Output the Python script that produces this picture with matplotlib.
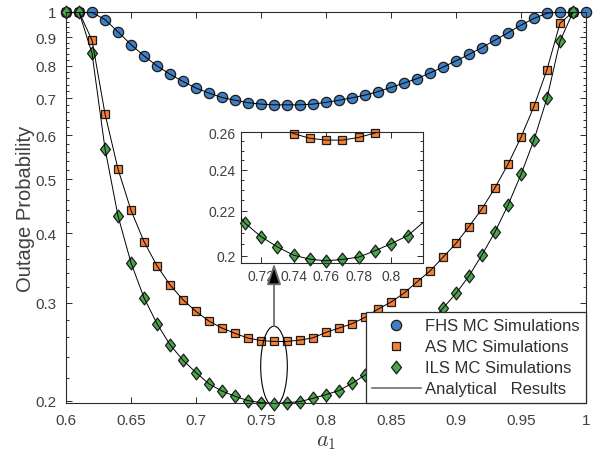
import numpy as np
import matplotlib
matplotlib.use('Agg')
import matplotlib.pyplot as plt
import matplotlib.lines as mlines
import matplotlib.transforms as mtransforms
from matplotlib.patches import Ellipse, FancyArrowPatch
from matplotlib.path import Path
from matplotlib.ticker import FixedLocator, FixedFormatter, NullFormatter

# power allocation coefficient a1
a1_fhs = [0.60, 0.61, 0.62, 0.63, 0.64, 0.65, 0.66, 0.67, 0.68, 0.69,
          0.70, 0.71, 0.72, 0.73, 0.74, 0.75, 0.76, 0.77, 0.78, 0.79,
          0.80, 0.81, 0.82, 0.83, 0.84, 0.85, 0.86, 0.87, 0.88, 0.89,
          0.90, 0.91, 0.92, 0.93, 0.94, 0.95, 0.96, 0.97, 0.98, 0.99, 1.00]
p_fhs = [1.0, 1.0, 0.998, 0.969, 0.921, 0.874, 0.834, 0.800, 0.773, 0.750,
         0.730, 0.715, 0.702, 0.694, 0.687, 0.683, 0.681, 0.681, 0.681, 0.683,
         0.688, 0.694, 0.701, 0.709, 0.719, 0.732, 0.745, 0.759, 0.777, 0.796,
         0.817, 0.839, 0.863, 0.890, 0.918, 0.947, 0.974, 0.995, 1.0, 1.0, 1.0]

a1_sic = [0.60, 0.61, 0.62, 0.63, 0.64, 0.65, 0.66, 0.67, 0.68, 0.69,
          0.70, 0.71, 0.72, 0.73, 0.74, 0.75, 0.76, 0.77, 0.78, 0.79,
          0.80, 0.81, 0.82, 0.83, 0.84, 0.85, 0.86, 0.87, 0.88, 0.89,
          0.90, 0.91, 0.92, 0.93, 0.94, 0.95, 0.96, 0.97, 0.98, 0.99]
p_as = [1.0, 1.0, 0.890, 0.656, 0.522, 0.440, 0.3866, 0.3497, 0.3232, 0.3039,
        0.2895, 0.2782, 0.2703, 0.2644, 0.2593, 0.2567, 0.2557, 0.2557, 0.2572, 0.2596,
        0.2655, 0.2703, 0.2752, 0.2825, 0.2924, 0.3010, 0.3123, 0.3272, 0.3423, 0.3623,
        0.3838, 0.4114, 0.4430, 0.4831, 0.5325, 0.5954, 0.677, 0.788, 0.9545, 1.0]
p_ils = [1.0, 1.0, 0.843, 0.568, 0.430, 0.354, 0.3064, 0.2752, 0.2523, 0.2366,
         0.2248, 0.2145, 0.2083, 0.2038, 0.2002, 0.1985, 0.1978, 0.1984, 0.1994, 0.2021,
         0.2052, 0.2087, 0.2150, 0.2225, 0.231, 0.240, 0.251, 0.263, 0.277, 0.2935,
         0.3119, 0.3354, 0.366, 0.4024, 0.4496, 0.5104, 0.589, 0.700, 0.886, 1.0]

labels = ['FHS MC Simulations', 'AS MC Simulations', 'ILS MC Simulations',
          'Analytical   Results']

yticks = [0.2, 0.3, 0.4, 0.5, 0.6, 0.7, 0.8, 0.9, 1.0]
yticklabels = ['0.2', '0.3', '0.4', '0.5', '0.6', '0.7', '0.8', '0.9', '1']
xticks = [0.6, 0.65, 0.7, 0.75, 0.8, 0.85, 0.9, 0.95, 1.0]
xticklabels = ['0.6', '0.65', '0.7', '0.75', '0.8', '0.85', '0.9', '0.95', '1']
in_xticks = [0.72, 0.74, 0.76, 0.78, 0.80]
in_xticklabels = ['0.72', '0.74', '0.76', '0.78', '0.8']
in_yticks = [0.2, 0.22, 0.24, 0.26]
in_yticklabels = ['0.2', '0.22', '0.24', '0.26']

plt.rcParams['font.family'] = ['Liberation Sans', 'DejaVu Sans']
plt.rcParams['mathtext.fontset'] = 'cm'

c_blue = '#3f7fc2'
c_orange = '#f2813a'
c_green = '#4aa64c'
c_edge = '#1c1c1c'
c_text = '#404040'
c_spine = '#2b2b2b'

diamond = Path([(0, 1), (0.78, 0), (0, -1), (-0.78, 0), (0, 1)],
               [Path.MOVETO, Path.LINETO, Path.LINETO, Path.LINETO, Path.CLOSEPOLY])

styles = [
    dict(marker='o', ms=7.4, mfc=c_blue),
    dict(marker='s', ms=6.0, mfc=c_orange),
    dict(marker=diamond, ms=9.2, mfc=c_green),
]


def style_axes(ax, size):
    for s in ax.spines.values():
        s.set_color(c_spine)
        s.set_linewidth(0.8)
    ax.tick_params(which='both', direction='in', top=True, right=True,
                   colors=c_spine, labelcolor=c_text, labelsize=size, width=0.7)
    ax.tick_params(which='major', length=4.5)
    ax.tick_params(which='minor', length=2.5)


fig = plt.figure(figsize=(5.99, 4.56), dpi=100)
ax = fig.add_axes([0.1102, 0.114, 0.8681, 0.8575])

series = [(a1_fhs, p_fhs), (a1_sic, p_as), (a1_sic, p_ils)]
for (x, y), st in zip(series, styles):
    ax.plot(x, y, linestyle='none', mec=c_edge, mew=0.9, zorder=2, clip_on=False, **st)
for x, y in series:
    ax.plot(x, y, '-', color='k', lw=0.7, zorder=3)

ax.set_yscale('log')
ax.set_xlim(0.6, 1.0)
ax.set_ylim(0.1982, 1.0)
ax.yaxis.set_major_locator(FixedLocator(yticks))
ax.yaxis.set_major_formatter(FixedFormatter(yticklabels))
minors = [v for v in np.round(np.arange(0.22, 1.0, 0.02), 2) if round(v * 10, 6) % 1 != 0]
ax.yaxis.set_minor_locator(FixedLocator(minors))
ax.yaxis.set_minor_formatter(NullFormatter())
ax.set_xticks(xticks)
ax.set_xticklabels(xticklabels)
style_axes(ax, 11)
ax.tick_params(axis='y', pad=7)
ax.tick_params(axis='x', pad=7)

ax.set_ylabel('Outage Probability', fontsize=14.5, color=c_text, labelpad=0)
ax.set_xlabel('$a_1$', fontsize=16, color=c_text, labelpad=2)

# ellipse around the minimum and arrow to the zoomed view
blend = mtransforms.blended_transform_factory(ax.transData, ax.transAxes)
ell = Ellipse((0.76, 0.094), 0.0205, 0.205, transform=blend,
              fill=False, ec='k', lw=0.8, zorder=4)
ax.add_patch(ell)

handles = [mlines.Line2D([], [], linestyle='none', mec=c_edge, mew=0.9, **st) for st in styles]
handles.append(mlines.Line2D([], [], color='#707070', lw=1.2))
leg = ax.legend(handles, labels, loc='lower right', fontsize=12, frameon=True,
                fancybox=False, framealpha=1, edgecolor=c_spine, borderaxespad=0,
                handlelength=2.9, handletextpad=0.25, labelspacing=0.36, borderpad=0.4)
leg.get_frame().set_linewidth(0.9)
for t in leg.get_texts():
    t.set_color('#303030')
leg.set_zorder(10)

# inset
axin = fig.add_axes([0.4028, 0.4211, 0.3038, 0.2866])
xlo, xhi, ylo, yhi = 0.708, 0.8195, 0.1969, 0.26
for (x, y), st in zip(series[1:], styles[1:]):
    xs = np.array(x)
    ys = np.array(y)
    keep = (xs >= xlo) & (xs <= xhi) & (ys >= ylo) & (ys <= yhi)
    axin.plot(xs[keep], ys[keep], linestyle='none', mec=c_edge, mew=0.9,
              zorder=2, clip_on=False, **st)
    axin.plot(x, y, '-', color='k', lw=0.7, zorder=3)
axin.set_yscale('log')
axin.set_xlim(xlo, xhi)
axin.set_ylim(ylo, yhi)
axin.yaxis.set_major_locator(FixedLocator(in_yticks))
axin.yaxis.set_major_formatter(FixedFormatter(in_yticklabels))
axin.yaxis.set_minor_locator(FixedLocator(np.arange(0.2, 0.2601, 0.005)))
axin.yaxis.set_minor_formatter(NullFormatter())
axin.set_xticks(in_xticks)
axin.set_xticklabels(in_xticklabels)
style_axes(axin, 10)
axin.tick_params(axis='both', pad=4)

arrow = FancyArrowPatch((0.76, 0.196), (0.76, 0.357), transform=blend,
                        arrowstyle='-|>,head_length=0.65,head_width=0.22',
                        mutation_scale=20, shrinkA=0, shrinkB=0,
                        ec='#6e6e6e', fc='k', lw=1.3, zorder=5)
fig.add_artist(arrow)

fig.savefig('out.png', dpi=100)
